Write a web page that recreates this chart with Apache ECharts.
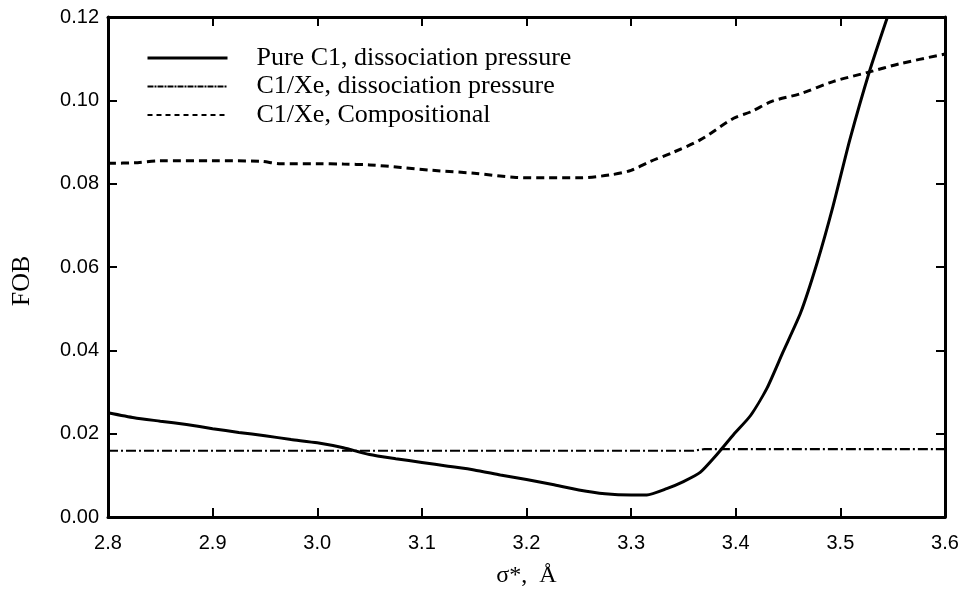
<!DOCTYPE html>
<html>
<head>
<meta charset="utf-8">
<script src="https://cdn.jsdelivr.net/npm/echarts@6/dist/echarts.min.js"></script>
<style>
  html, body { margin: 0; padding: 0; background: #fff; }
  #chart { width: 963px; height: 593px; }
</style>
</head>
<body>
<div id="chart"></div>
<script>
// Objective function (FOB) against the size parameter sigma* for the three fits.
var seriesNames = [
  'Pure C1, dissociation pressure',
  'C1/Xe, dissociation pressure',
  'C1/Xe, Compositional'
];

var sigmaPure = [2.80, 2.825, 2.85, 2.875, 2.90, 2.925, 2.95, 2.975, 3.00, 3.025, 3.05, 3.075,
  3.10, 3.125, 3.15, 3.175, 3.20, 3.225, 3.25, 3.275, 3.30, 3.315, 3.334, 3.35, 3.366, 3.382,
  3.398, 3.414, 3.43, 3.445, 3.462, 3.478, 3.493, 3.509, 3.528, 3.545];
var fobPure = [0.0250, 0.0238, 0.0230, 0.0222, 0.0212, 0.0203, 0.0195, 0.0186, 0.0178, 0.0166,
  0.0150, 0.0140, 0.0131, 0.0122, 0.0113, 0.0101, 0.0090, 0.0078, 0.0065, 0.0056, 0.0053,
  0.0053, 0.0068, 0.0085, 0.0107, 0.0150, 0.0198, 0.0243, 0.0310, 0.0395, 0.0490, 0.0612,
  0.0746, 0.0905, 0.1071, 0.1200];

var sigmaXeDiss = [2.80, 3.36, 3.37, 3.60];
var fobXeDiss = [0.0159, 0.0159, 0.0163, 0.0163];

var sigmaComp = [2.80, 2.825, 2.85, 2.90, 2.945, 2.965, 3.00, 3.025, 3.05, 3.08, 3.11, 3.15,
  3.19, 3.22, 3.25, 3.28, 3.30, 3.318, 3.34, 3.366, 3.398, 3.414, 3.435, 3.462, 3.493, 3.526,
  3.557, 3.60];
var fobComp = [0.0849, 0.0850, 0.0855, 0.0855, 0.0854, 0.0848, 0.0848, 0.0847, 0.0845, 0.0839,
  0.0832, 0.0825, 0.0815, 0.0814, 0.0814, 0.0821, 0.0832, 0.0853, 0.0875, 0.0905, 0.0957,
  0.0972, 0.0998, 0.1016, 0.1045, 0.1067, 0.1088, 0.1111];

var xTicks = [2.8, 2.9, 3.0, 3.1, 3.2, 3.3, 3.4, 3.5, 3.6];
var yTicks = [0.00, 0.02, 0.04, 0.06, 0.08, 0.10, 0.12];

function pairs(xs, ys) {
  return xs.map(function (x, i) { return [x, ys[i]]; });
}

var serif = 'Liberation Serif, Times New Roman, serif';
var axisLine = { show: true, onZero: false, lineStyle: { color: '#000', width: 3 } };
var tickStyle = { show: true, inside: true, length: 9, lineStyle: { color: '#000', width: 2 } };
var tickFont = { color: '#000', fontFamily: 'Liberation Sans, Arial, sans-serif', fontSize: 20 };

var xBase = {
  type: 'value', min: xTicks[0], max: xTicks[xTicks.length - 1], interval: 0.1,
  axisLine: axisLine, axisTick: tickStyle, splitLine: { show: false }
};
var yBase = {
  type: 'value', min: yTicks[0], max: yTicks[yTicks.length - 1], interval: 0.02,
  axisLine: axisLine, axisTick: tickStyle, splitLine: { show: false }
};

var chart = echarts.init(document.getElementById('chart'), null, { renderer: 'canvas' });
chart.setOption({
  animation: false,
  backgroundColor: '#fff',
  grid: { left: 108, right: 18, top: 17, bottom: 73, containLabel: false },
  legend: {
    orient: 'vertical',
    left: 141,
    top: 39,
    itemWidth: 80,
    itemHeight: 14,
    itemGap: 0.5,
    itemStyle: { opacity: 0 },
    textStyle: {
      color: '#000', fontFamily: serif,
      fontSize: 26, lineHeight: 28, padding: [0, 0, 0, 24]
    },
    data: [
      { name: seriesNames[0], lineStyle: { width: 3, type: 'solid' } },
      { name: seriesNames[1], lineStyle: { width: 2, type: [6, 1, 2, 1] } },
      { name: seriesNames[2], lineStyle: { width: 2, type: [5, 4] } }
    ]
  },
  xAxis: [
    Object.assign({}, xBase, {
      position: 'bottom',
      name: 'σ*,  Å',
      nameLocation: 'middle',
      nameGap: 47,
      nameTextStyle: { color: '#000', fontFamily: serif, fontSize: 24 },
      axisLabel: Object.assign({ margin: 16, formatter: function (v) { return v.toFixed(1); } }, tickFont)
    }),
    Object.assign({}, xBase, { position: 'top', axisLabel: { show: false } })
  ],
  yAxis: [
    Object.assign({}, yBase, {
      position: 'left',
      name: 'FOB',
      nameLocation: 'middle',
      nameGap: 73,
      nameTextStyle: { color: '#000', fontFamily: serif, fontSize: 26, padding: [0, 28, 0, 0] },
      axisLabel: Object.assign({ margin: 9, formatter: function (v) { return v.toFixed(2); } }, tickFont)
    }),
    Object.assign({}, yBase, { position: 'right', axisLabel: { show: false } })
  ],
  series: [
    {
      name: seriesNames[0], type: 'line', symbol: 'none', smooth: 0.2,
      data: pairs(sigmaPure, fobPure),
      lineStyle: { color: '#000', width: 3, type: 'solid' },
      itemStyle: { color: '#000' }
    },
    {
      name: seriesNames[1], type: 'line', symbol: 'none',
      data: pairs(sigmaXeDiss, fobXeDiss),
      lineStyle: { color: '#000', width: 2.2, type: [10, 3, 2, 3] },
      itemStyle: { color: '#000' }
    },
    {
      name: seriesNames[2], type: 'line', symbol: 'none', smooth: 0.3,
      data: pairs(sigmaComp, fobComp),
      lineStyle: { color: '#000', width: 3, type: [8, 5] },
      itemStyle: { color: '#000' }
    }
  ]
});
</script>
</body>
</html>
